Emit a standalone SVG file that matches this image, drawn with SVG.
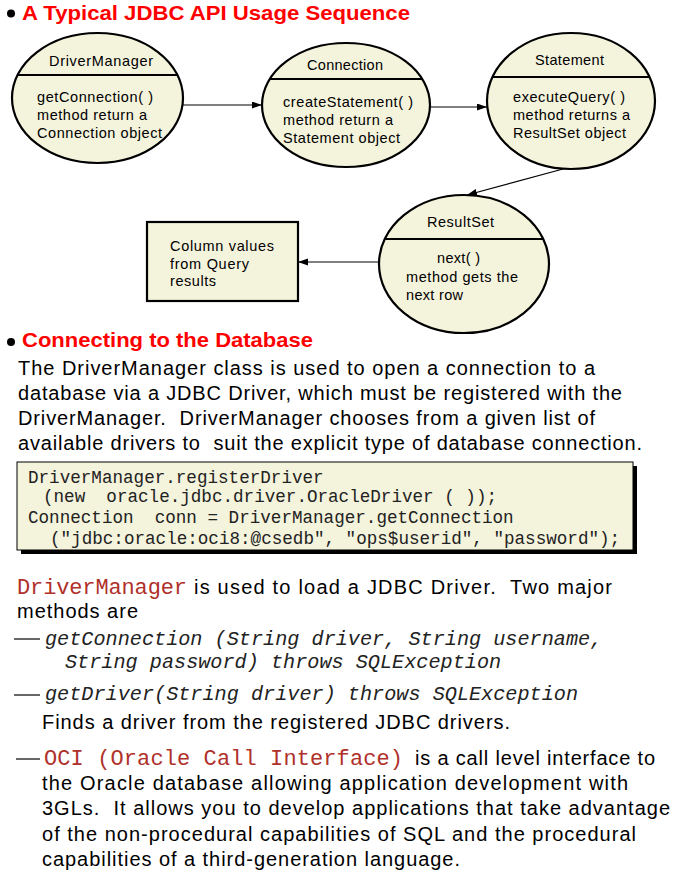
<svg xmlns="http://www.w3.org/2000/svg" width="680" height="880" viewBox="0 0 680 880">
<style>
.nd{fill:#f4f3dc;stroke:#000;stroke-width:2.2}
.dv{stroke:#000;stroke-width:2.2}
.lb{font-family:"Liberation Sans",Arial,sans-serif;font-size:14.5px;fill:#000}
.hd{font-family:"Liberation Sans",Arial,sans-serif;font-size:21px;font-weight:bold;fill:#ff0000}
.tx{font-family:"Liberation Sans",Arial,sans-serif;font-size:20px;fill:#000}
.cd{font-family:"Liberation Mono","Courier New",monospace;font-size:17.6px;fill:#222}
.ci{font-family:"Liberation Mono","Courier New",monospace;font-size:20.2px;font-style:italic;fill:#222}
.cr{font-family:"Liberation Mono","Courier New",monospace;font-size:22px;fill:#b0302a}
.cn{stroke:#000;stroke-width:1.2;fill:none;marker-end:url(#ah)}
.ds{stroke:#000;stroke-width:1.2}
</style>
<defs>
<marker id="ah" markerUnits="userSpaceOnUse" markerWidth="11" markerHeight="8" refX="10" refY="3.5" orient="auto">
<path d="M0,0 L10,3.5 L0,7 z" fill="#000"/>
</marker>
</defs>

<circle cx="11" cy="13.5" r="4" fill="#000"/>
<text class="hd" x="22" y="20" textLength="388" lengthAdjust="spacingAndGlyphs">A Typical JDBC API Usage Sequence</text>

<g id="connectors">
<line class="cn" x1="183" y1="105" x2="262" y2="105"/>
<line class="cn" x1="430" y1="107" x2="487" y2="107"/>
<line class="cn" x1="563" y1="169" x2="467" y2="195"/>
<line class="cn" x1="379" y1="262" x2="298" y2="262"/>
</g>

<g id="driverManager">
<ellipse class="nd" cx="97.5" cy="98" rx="85.5" ry="65"/>
<line class="dv" x1="17.5" y1="75" x2="177.5" y2="75"/>
<text class="lb" x="49" y="66" textLength="104">DriverManager</text>
<text class="lb" x="37" y="102" textLength="116">getConnection( )</text>
<text class="lb" x="37" y="120" textLength="110">method return a</text>
<text class="lb" x="37" y="138" textLength="125">Connection object</text>
</g>

<g id="connection">
<ellipse class="nd" cx="346" cy="105" rx="84" ry="62"/>
<line class="dv" x1="269.7" y1="79" x2="422.3" y2="79"/>
<text class="lb" x="307" y="70" textLength="76">Connection</text>
<text class="lb" x="283" y="107" textLength="130">createStatement( )</text>
<text class="lb" x="283" y="125" textLength="110">method return a</text>
<text class="lb" x="283" y="143" textLength="117">Statement object</text>
</g>

<g id="statement">
<ellipse class="nd" cx="571" cy="101" rx="84" ry="68"/>
<line class="dv" x1="492.4" y1="77" x2="649.6" y2="77"/>
<text class="lb" x="535" y="65" textLength="69">Statement</text>
<text class="lb" x="513" y="102" textLength="112">executeQuery( )</text>
<text class="lb" x="513" y="120" textLength="117">method returns a</text>
<text class="lb" x="513" y="138" textLength="113">ResultSet object</text>
</g>

<g id="resultSet">
<ellipse class="nd" cx="464" cy="264" rx="85" ry="69"/>
<line class="dv" x1="384.8" y1="239" x2="543.2" y2="239"/>
<text class="lb" x="427" y="227" textLength="67">ResultSet</text>
<text class="lb" x="437" y="263" textLength="43">next( )</text>
<text class="lb" x="406" y="282" textLength="112">method gets the</text>
<text class="lb" x="406" y="300" textLength="57">next row</text>
</g>

<g id="columnValues">
<rect class="nd" x="147" y="222" width="151" height="79"/>
<text class="lb" x="170" y="251" textLength="104">Column values</text>
<text class="lb" x="170" y="269" textLength="79">from Query</text>
<text class="lb" x="170" y="286" textLength="46">results</text>
</g>

<circle cx="11" cy="342" r="4" fill="#000"/>
<text class="hd" x="22" y="347" textLength="291" lengthAdjust="spacingAndGlyphs">Connecting to the Database</text>

<text class="tx" x="18" y="375" textLength="577">The DriverManager class is used to open a connection to a</text>
<text class="tx" x="18" y="400" textLength="604">database via a JDBC Driver, which must be registered with the</text>
<text class="tx" x="18" y="425" textLength="577" xml:space="preserve">DriverManager.  DriverManager chooses from a given list of</text>
<text class="tx" x="18" y="450" textLength="624" xml:space="preserve">available drivers to  suit the explicit type of database connection.</text>

<rect x="21" y="466" width="616" height="88" fill="#000"/>
<rect x="17" y="462" width="616" height="88" fill="#f4f3dc" stroke="#000" stroke-width="1"/>
<text class="cd" x="28" y="483">DriverManager.registerDriver</text>
<text class="cd" x="43" y="502" xml:space="preserve">(new  oracle.jdbc.driver.OracleDriver ( ));</text>
<text class="cd" x="28" y="523" xml:space="preserve">Connection  conn = DriverManager.getConnection</text>
<text class="cd" x="50" y="544">("jdbc:oracle:oci8:@csedb", "ops$userid", "password");</text>

<text class="cr" x="17" y="594" textLength="170">DriverManager</text>
<text class="tx" x="194" y="594" textLength="418" xml:space="preserve">is used to load a JDBC Driver.  Two major</text>
<text class="tx" x="17" y="618" textLength="121">methods are</text>

<line class="ds" x1="14" y1="639" x2="40" y2="639"/>
<text class="ci" x="45" y="645">getConnection (String driver, String username,</text>
<text class="ci" x="65" y="668">String password) throws SQLException</text>
<line class="ds" x1="14" y1="695" x2="40" y2="695"/>
<text class="ci" x="45" y="700">getDriver(String driver) throws SQLException</text>
<text class="tx" x="42" y="729" textLength="468">Finds a driver from the registered JDBC drivers.</text>

<line class="ds" x1="16" y1="759" x2="40" y2="759"/>
<text class="cr" x="44" y="765" textLength="359">OCI (Oracle Call Interface)</text>
<text class="tx" x="415" y="765" textLength="240">is a call level interface to</text>
<text class="tx" x="42" y="790" textLength="586">the Oracle database allowing application development with</text>
<text class="tx" x="42" y="815" textLength="628" xml:space="preserve">3GLs.  It allows you to develop applications that take advantage</text>
<text class="tx" x="42" y="841" textLength="594">of the non-procedural capabilities of SQL and the procedural</text>
<text class="tx" x="42" y="866" textLength="418">capabilities of a third-generation language.</text>
</svg>
